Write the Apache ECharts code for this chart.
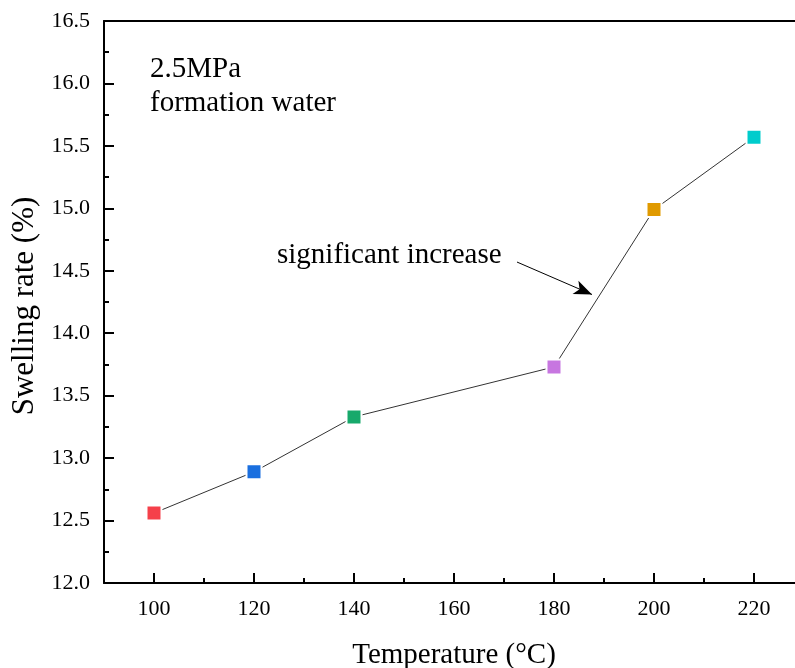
<!DOCTYPE html>
<html>
<head>
<meta charset="utf-8">
<script src="https://cdn.jsdelivr.net/npm/echarts@6/dist/echarts.min.js"></script>
<style>
  html, body { margin: 0; padding: 0; background: #fff; }
  #chart { width: 795px; height: 668px; }
</style>
</head>
<body>
<div id="chart"></div>
<script>
// data
const temps = [100, 120, 140, 180, 200, 220];
const rates = [12.56, 12.89, 13.33, 13.73, 14.99, 15.57];
const pointColors = ['#f5404a', '#1a6fdf', '#17a96b', '#c776e0', '#e09a00', '#00cccc'];
const xMajor = [100, 120, 140, 160, 180, 200, 220];
const xMinor = [110, 130, 150, 170, 190, 210];
const arrowFrom = [172.6, 14.57];
const arrowTo = [187.6, 14.31];

const font = 'Liberation Serif';
const chart = echarts.init(document.getElementById('chart'));

const points = temps.map((t, i) => ({
  value: [t, rates[i]],
  itemStyle: { color: pointColors[i] }
}));

chart.setOption({
  animation: false,
  grid: {
    left: 104, top: 21, bottom: 85, right: -9,
    outerBoundsMode: 'none'
  },
  xAxis: [{
    type: 'value',
    min: 90, max: 230,
    name: 'Temperature (°C)',
    nameLocation: 'middle',
    nameGap: 58,
    nameTextStyle: { fontFamily: font, fontSize: 29, color: '#000' },
    axisLine: { lineStyle: { color: '#000', width: 2 } },
    splitLine: { show: false },
    axisTick: { inside: true, length: 10, lineStyle: { color: '#000', width: 2 }, customValues: xMajor },
    axisLabel: { fontFamily: font, fontSize: 22, color: '#000', margin: 15, customValues: xMajor }
  }, {
    type: 'value',
    min: 90, max: 230,
    position: 'bottom',
    axisLine: { show: false },
    splitLine: { show: false },
    axisTick: { inside: true, length: 5, lineStyle: { color: '#000', width: 2 }, customValues: xMinor },
    axisLabel: { show: false }
  }, {
    type: 'value',
    min: 90, max: 230,
    position: 'top',
    axisLine: { show: true, lineStyle: { color: '#000', width: 2 } },
    splitLine: { show: false },
    axisTick: { show: false },
    axisLabel: { show: false }
  }],
  yAxis: {
    type: 'value',
    min: 12, max: 16.5, interval: 0.5,
    name: 'Swelling rate (%)',
    nameLocation: 'middle',
    nameGap: 53,
    nameTextStyle: { fontFamily: font, fontSize: 31, color: '#000', padding: [0, 8, 0, 0] },
    axisLine: { show: true, lineStyle: { color: '#000', width: 2 } },
    splitLine: { show: false },
    axisTick: { inside: true, length: 10, lineStyle: { color: '#000', width: 2 } },
    minorTick: { show: true, splitNumber: 2, length: 5, lineStyle: { color: '#000', width: 2 } },
    axisLabel: {
      fontFamily: font, fontSize: 22, color: '#000', margin: 14,
      formatter: v => v.toFixed(1)
    }
  },
  series: [{
    type: 'line',
    data: points,
    symbol: 'rect',
    symbolSize: 15,
    lineStyle: { color: '#333', width: 1 },
    itemStyle: { borderColor: '#fff', borderWidth: 2 },
    markLine: {
      silent: true,
      symbol: ['none', 'arrow'],
      symbolSize: [11, 18],
      label: { show: false },
      lineStyle: { color: '#000', width: 1, type: 'solid' },
      data: [[{ coord: arrowFrom }, { coord: arrowTo }]]
    }
  }],
  graphic: [
    { type: 'text', left: 150, top: 55, style: { text: '2.5MPa', font: '29px "Liberation Serif"', fill: '#000' } },
    { type: 'text', left: 150, top: 89, style: { text: 'formation water', font: '29px "Liberation Serif"', fill: '#000' } },
    { type: 'text', left: 277, top: 241, style: { text: 'significant increase', font: '29px "Liberation Serif"', fill: '#000' } }
  ]
});
</script>
</body>
</html>
